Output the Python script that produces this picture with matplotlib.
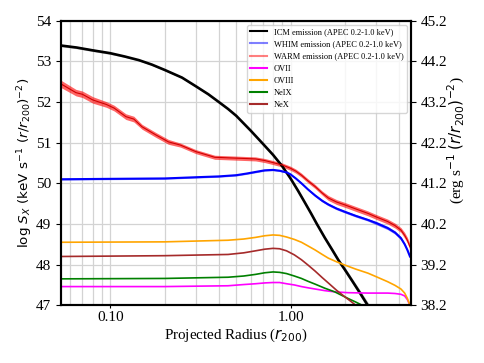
import matplotlib
matplotlib.use("Agg")
import matplotlib.pyplot as plt
import numpy as np
from matplotlib.lines import Line2D
from matplotlib.ticker import FixedLocator, FixedFormatter, LogLocator, NullFormatter

plt.rcParams['font.family'] = ['Liberation Serif', 'DejaVu Serif']
plt.rcParams['mathtext.fontset'] = 'dejavusans'

# ---------------- data ----------------
r_icm = [0.053, 0.065, 0.08, 0.1, 0.12, 0.144, 0.17, 0.2, 0.25, 0.3, 0.35, 0.4, 0.45, 0.5, 0.6, 0.7,
         0.8, 0.9, 1.0, 1.1, 1.2, 1.3, 1.4, 1.55, 1.7, 1.85, 2.0, 2.2, 2.4, 2.7, 3.0]
icm = [53.39, 53.34, 53.27, 53.20, 53.12, 53.03, 52.92, 52.79, 52.60, 52.38, 52.19, 52.00, 51.83, 51.66,
       51.30, 50.98, 50.70, 50.42, 50.12, 49.82, 49.53, 49.26, 49.00, 48.66, 48.37, 48.10, 47.88, 47.60,
       47.34, 46.98, 46.70]
icm_err = [0.03, 0.03, 0.03, 0.03, 0.02, 0.02, 0.02, 0.02, 0.02, 0.02, 0.02, 0.02, 0.02, 0.02,
           0.02, 0.02, 0.02, 0.02, 0.02, 0.03, 0.03, 0.03, 0.04, 0.04, 0.05, 0.05, 0.06, 0.06,
           0.07, 0.08, 0.08]

r_warm = [0.053, 0.0645, 0.07, 0.08, 0.095, 0.105, 0.122, 0.135, 0.15, 0.179, 0.21, 0.245, 0.298, 0.38,
          0.494, 0.64, 0.72, 0.8, 0.9, 1.0, 1.07, 1.15, 1.25, 1.37, 1.5, 1.62, 1.8, 2.0, 2.3, 2.69, 3.0,
          3.46, 3.8, 4.1, 4.3, 4.45, 4.6]
warm = [52.45, 52.23, 52.19, 52.05, 51.94, 51.85, 51.64, 51.58, 51.39, 51.19, 51.02, 50.94, 50.78, 50.64,
        50.62, 50.60, 50.56, 50.51, 50.45, 50.37, 50.30, 50.20, 50.06, 49.92, 49.76, 49.64, 49.54, 49.47,
        49.37, 49.26, 49.17, 49.06, 48.96, 48.85, 48.72, 48.60, 48.44]
warm_err = [0.09, 0.08, 0.08, 0.08, 0.07, 0.07, 0.07, 0.07, 0.06, 0.06, 0.06, 0.05, 0.05, 0.05,
            0.05, 0.05, 0.05, 0.05, 0.05, 0.05, 0.05, 0.05, 0.05, 0.05, 0.05, 0.06, 0.06, 0.06,
            0.06, 0.06, 0.06, 0.06, 0.06, 0.06, 0.07, 0.07, 0.07]

r_whim = [0.053, 0.1, 0.2, 0.3, 0.4, 0.5, 0.57, 0.64, 0.72, 0.8, 0.87, 0.95, 1.0, 1.07, 1.15, 1.25, 1.37,
          1.5, 1.62, 1.8, 2.0, 2.3, 2.69, 3.0, 3.46, 3.8, 4.1, 4.3, 4.45, 4.6]
whim = [50.10, 50.11, 50.12, 50.15, 50.17, 50.20, 50.24, 50.28, 50.32, 50.33, 50.31, 50.27, 50.22, 50.12,
        50.00, 49.85, 49.70, 49.57, 49.48, 49.38, 49.30, 49.20, 49.10, 49.02, 48.90, 48.79, 48.65, 48.50,
        48.36, 48.20]
whim_err = [0.02, 0.02, 0.02, 0.02, 0.02, 0.02, 0.02, 0.02, 0.02, 0.02, 0.02, 0.02, 0.02, 0.02, 0.02,
            0.02, 0.03, 0.03, 0.03, 0.03, 0.03, 0.03, 0.03, 0.04, 0.04, 0.04, 0.04, 0.04, 0.04, 0.04]

r_ovii = [0.053, 0.2, 0.45, 0.55, 0.64, 0.72, 0.8, 0.87, 0.95, 1.05, 1.15, 1.25, 1.37, 1.55, 1.76, 2.08,
          2.69, 3.46, 3.8, 4.1, 4.3, 4.45, 4.6]
ovii = [47.46, 47.46, 47.48, 47.51, 47.53, 47.55, 47.56, 47.56, 47.53, 47.50, 47.46, 47.43, 47.40, 47.36,
        47.33, 47.31, 47.30, 47.30, 47.29, 47.27, 47.23, 47.14, 47.00]

r_oviii = [0.053, 0.2, 0.3, 0.45, 0.55, 0.64, 0.72, 0.8, 0.87, 0.95, 1.05, 1.15, 1.25, 1.37, 1.5, 1.62,
           1.8, 2.0, 2.3, 2.69, 3.0, 3.46, 3.8, 4.1, 4.3, 4.45, 4.6]
oviii = [48.55, 48.56, 48.58, 48.60, 48.63, 48.67, 48.71, 48.73, 48.72, 48.68, 48.62, 48.55, 48.46, 48.36,
         48.25, 48.16, 48.07, 47.99, 47.89, 47.79, 47.70, 47.58, 47.49, 47.40, 47.30, 47.17, 47.00]

r_neix = [0.053, 0.2, 0.45, 0.55, 0.64, 0.72, 0.8, 0.87, 0.95, 1.05, 1.15, 1.25, 1.37, 1.55, 1.76, 2.08,
          2.3, 2.5, 2.8]
neix = [47.65, 47.66, 47.69, 47.72, 47.76, 47.80, 47.82, 47.81, 47.78, 47.72, 47.66, 47.59, 47.52, 47.42,
        47.33, 47.17, 47.08, 47.00, 46.90]

r_nex = [0.053, 0.2, 0.45, 0.55, 0.64, 0.72, 0.8, 0.87, 0.95, 1.05, 1.15, 1.25, 1.37, 1.5, 1.62, 1.8,
         2.0, 2.2, 2.3, 2.5]
nex = [48.20, 48.22, 48.25, 48.29, 48.34, 48.38, 48.40, 48.39, 48.34, 48.24, 48.12, 47.99, 47.84, 47.68,
       47.55, 47.37, 47.21, 47.07, 47.00, 46.87]

labels = ["ICM emission (APEC 0.2-1.0 keV)", "WHIM emission (APEC 0.2-1.0 keV)",
          "WARM emission (APEC 0.2-1.0 keV)", "OVII", "OVIII", "NeIX", "NeX"]

xticks = [0.1, 1.0]
xticklabels = ["0.10", "1.00"]
yticks_left = [47, 48, 49, 50, 51, 52, 53, 54]
yticks_right = [38.2, 39.2, 40.2, 41.2, 42.2, 43.2, 44.2, 45.2]

# ---------------- figure ----------------
fig = plt.figure(figsize=(4.85, 3.63), dpi=100)
ax = fig.add_axes([0.125, 0.159, 0.722, 0.784])

def arr(a):
    return np.asarray(a, dtype=float)

ax.fill_between(r_icm, arr(icm) - arr(icm_err), arr(icm) + arr(icm_err), color='gray', alpha=0.5, lw=0)
ax.plot(r_icm, icm, color='black', lw=1.9)
ax.fill_between(r_whim, arr(whim) - arr(whim_err), arr(whim) + arr(whim_err), color='blue', alpha=0.5, lw=0)
ax.plot(r_whim, whim, color='blue', lw=1.5)
ax.fill_between(r_warm, arr(warm) - arr(warm_err), arr(warm) + arr(warm_err), color='red', alpha=0.6, lw=0)
ax.plot(r_warm, warm, color='#d00000', lw=0.8)
ax.plot(r_ovii, ovii, color='magenta', lw=1.2)
ax.plot(r_oviii, oviii, color='orange', lw=1.2)
ax.plot(r_neix, neix, color='green', lw=1.2)
ax.plot(r_nex, nex, color='brown', lw=1.2)

handles = [Line2D([], [], color='black', lw=1.5),
           Line2D([], [], color='blue', lw=1.5, alpha=0.5),
           Line2D([], [], color='red', lw=1.5, alpha=0.5),
           Line2D([], [], color='magenta', lw=1.5),
           Line2D([], [], color='orange', lw=1.5),
           Line2D([], [], color='green', lw=1.5),
           Line2D([], [], color='brown', lw=1.5)]
ax.legend(handles, labels, loc='upper right', fontsize=6, framealpha=0.8)

ax.set_xscale('log')
ax.set_xlim(0.053, 4.65)
ax.set_ylim(47, 54)
ax.xaxis.set_major_locator(FixedLocator(xticks))
ax.xaxis.set_major_formatter(FixedFormatter(xticklabels))
ax.xaxis.set_minor_locator(LogLocator(base=10, subs=np.arange(2, 10)))
ax.xaxis.set_minor_formatter(NullFormatter())
ax.set_yticks(yticks_left)
ax.grid(True, which='both', axis='x', color='#d3d3d3', lw=0.9)
ax.grid(True, which='major', axis='y', color='#d3d3d3', lw=0.9)
ax.set_axisbelow(True)
ax.tick_params(labelsize=11)
ax.tick_params(axis='x', which='major', length=2, pad=2)
ax.tick_params(axis='x', which='minor', length=0)
for s in ax.spines.values():
    s.set_linewidth(1.5)

ax.set_xlabel(r"Projected Radius ($r_{200}$)", fontsize=10.8, labelpad=2)
ax.set_ylabel(r"log $S_X$ (keV s$^{-1}$ $(r/r_{200})^{-2}$)", fontsize=9.7, family='DejaVu Sans')
ax.yaxis.set_label_coords(-0.072, 0.5)

ax2 = ax.twinx()
ax2.set_ylim(38.2, 45.2)
ax2.set_yticks(yticks_right)
ax2.set_yticklabels([f"{v:.1f}" for v in yticks_right])
ax2.tick_params(labelsize=11)
ax2.set_ylabel(r"(erg s$^{-1}$ $(r/r_{200})^{-2}$)", fontsize=11)
ax2.yaxis.set_label_coords(1.10, 0.58)
for s in ax2.spines.values():
    s.set_linewidth(1.5)

fig.savefig("out.png", dpi=100)
